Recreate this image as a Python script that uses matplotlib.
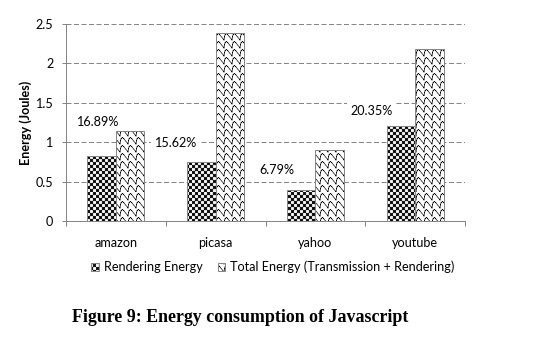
import warnings
import numpy as np
import matplotlib
matplotlib.use('Agg')
import matplotlib.pyplot as plt
import matplotlib.hatch as mhatch
from matplotlib.path import Path

warnings.filterwarnings('ignore')

sites = ['amazon', 'picasa', 'yahoo', 'youtube']
rendering = [0.83, 0.75, 0.39, 1.20]
total = [1.14, 2.38, 0.90, 2.18]
share_labels = ['16.89%', '15.62%', '6.79%', '20.35%']
# where the share labels sit (x offset from category, y in Joules)
label_dx = [-0.18, -0.40, -0.39, -0.44]
label_y = [1.26, 0.99, 0.65, 1.39]


# excel-like fill patterns as extra hatch types
class CheckerHatch(mhatch.HatchPatternBase):
    def __init__(self, hatch, density):
        self.n = 32 if 'c' in hatch else 0
        self.num_vertices = (self.n * self.n // 2) * 5

    def set_vertices_and_codes(self, vertices, codes):
        s = 1.0 / self.n
        e = 0.25 / 96
        k = 0
        for i in range(self.n):
            for j in range(self.n):
                if (i + j) % 2:
                    continue
                x0, y0 = j * s + e, i * s + e
                x1, y1 = x0 + s - 2 * e, y0 + s - 2 * e
                vertices[k:k + 5] = [(x0, y0), (x1, y0), (x1, y1), (x0, y1), (x0, y0)]
                codes[k:k + 5] = [Path.MOVETO, Path.LINETO, Path.LINETO,
                                  Path.LINETO, Path.CLOSEPOLY]
                k += 5


class WaveHatch(mhatch.HatchPatternBase):
    unit = [(0.0, 0.0), (0.05, 0.4), (0.15, 0.7), (0.3, 0.8),
            (0.42, 0.72), (1.0, 0.0)]

    def __init__(self, hatch, density):
        self.n = 12 if 'w' in hatch else 0
        self.num_vertices = self.n * self.n * (len(self.unit) - 1) * 2

    def set_vertices_and_codes(self, vertices, codes):
        p = 1.0 / self.n
        k = 0
        for r in range(self.n):
            for c in range(self.n):
                for a, b in zip(self.unit[:-1], self.unit[1:]):
                    vertices[k] = (c * p + a[0] * p, r * p + a[1] * p)
                    vertices[k + 1] = (c * p + b[0] * p, r * p + b[1] * p)
                    codes[k] = Path.MOVETO
                    codes[k + 1] = Path.LINETO
                    k += 2


mhatch._hatch_types.append(CheckerHatch)
mhatch._hatch_types.append(WaveHatch)

plt.rcParams['font.family'] = ['Lato', 'DejaVu Sans']
plt.rcParams['hatch.linewidth'] = 0.5

DPI = 96
FS = 9.5
fig = plt.figure(figsize=(533 / DPI, 350 / DPI), dpi=DPI)
ax = fig.add_axes([66 / 533, 129 / 350, 399 / 533, 197 / 350])

x = np.arange(len(sites))
w = 0.285
edge = '#868686'
b1 = ax.bar(x - w / 2, rendering, w, facecolor='white', edgecolor=edge,
            linewidth=0.75, hatch='c', label='Rendering Energy', zorder=2)
b2 = ax.bar(x + w / 2, total, w, facecolor='white', edgecolor=edge,
            linewidth=0.75, hatch='w', label='Total Energy (Transmission + Rendering)', zorder=2)
for p in list(b1) + list(b2):
    p._hatch_color = (0, 0, 0, 1)

for i in range(len(sites)):
    ax.text(x[i] + label_dx[i], label_y[i], share_labels[i], ha='center', va='center',
            fontsize=FS, zorder=3,
            bbox=dict(facecolor='white', edgecolor='none', pad=2.5))

ax.set_xlim(-0.5, len(sites) - 0.5)
ax.set_ylim(0, 2.5)
ax.set_yticks([0, 0.5, 1, 1.5, 2, 2.5])
ax.set_yticklabels(['0', '0.5', '1', '1.5', '2', '2.5'])
ax.set_xticks(x)
ax.set_xticklabels(sites)
ax.set_xticks(np.arange(len(sites) + 1) - 0.5, minor=True)
ax.tick_params(axis='x', which='major', length=0, pad=12, labelsize=FS)
ax.tick_params(axis='x', which='minor', length=4, color=edge, width=0.75)
ax.tick_params(axis='y', length=3, color=edge, width=0.75, labelsize=FS, pad=6.5)

ax.grid(axis='y', color=edge, linestyle=(0, (5, 2.5)), linewidth=0.75, zorder=0)
ax.set_axisbelow(True)
for s in ['top', 'right']:
    ax.spines[s].set_visible(False)
for s in ['left', 'bottom']:
    ax.spines[s].set_color(edge)
    ax.spines[s].set_linewidth(0.75)

ax.set_ylabel('Energy (Joules)', fontsize=FS, fontweight='bold', labelpad=3)

fig.legend(loc='center', bbox_to_anchor=(273 / 533, 83 / 350), ncol=2, frameon=False,
           fontsize=FS, handlelength=0.6, handleheight=0.6, handletextpad=0.4,
           columnspacing=1.2, borderpad=0)

fig.text(240 / 533, 32 / 350, 'Figure 9: Energy consumption of Javascript',
         ha='center', va='center', fontsize=13.4, fontweight='bold',
         family='Liberation Serif')

fig.savefig('out.png', dpi=DPI, facecolor='white')
